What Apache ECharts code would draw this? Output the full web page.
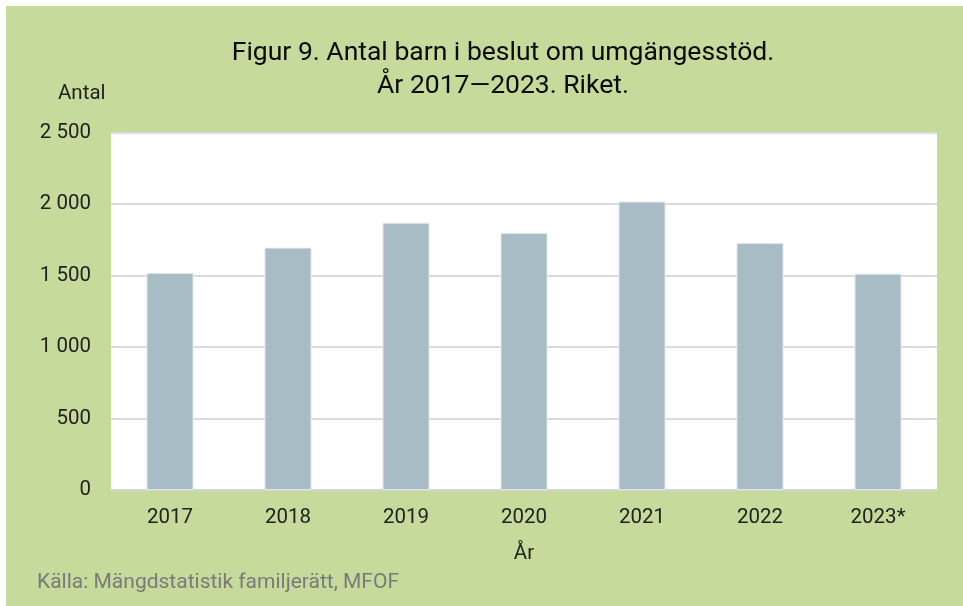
<!DOCTYPE html>
<html>
<head>
<meta charset="utf-8">
<script src="https://cdn.jsdelivr.net/npm/echarts@6/dist/echarts.min.js"></script>
<style>
  html, body { margin: 0; padding: 0; background: #fff; }
  #chart { position: absolute; left: 6px; top: 6px; width: 957px; height: 600px; }
</style>
</head>
<body>
<div id="chart"></div>
<script>
// År och antal barn
const years = ["2017", "2018", "2019", "2020", "2021", "2022", "2023*"];
const antal = [1518, 1695, 1869, 1797, 2017, 1727, 1513];
const yTicks = [0, 500, 1000, 1500, 2000, 2500];

const fmt = v => String(v).replace(/\B(?=(\d{3})+(?!\d))/g, " ");

const chart = echarts.init(document.getElementById("chart"));
chart.setOption({
  backgroundColor: "#c5da9b",
  textStyle: { fontFamily: "Roboto" },
  title: [
    {
      text: "Figur 9. Antal barn i beslut om umgängesstöd.\nÅr 2017\u20142023. Riket.",
      left: 492,
      top: 26,
      textAlign: "center",
      textStyle: { fontSize: 26.5, fontWeight: "normal", color: "#0a0a0a", lineHeight: 33, fontFamily: "Roboto" },
    },
    {
      text: "Källa: Mängdstatistik familjerätt, MFOF",
      left: 26,
      top: 561,
      textStyle: { fontSize: 21, fontWeight: "normal", color: "#7a7a7a", fontFamily: "Roboto" },
    },
  ],
  graphic: [
    {
      type: "text",
      left: 52,
      top: 77,
      style: { text: "Antal", fontSize: 20.5, fill: "#222", fontFamily: "Roboto" },
    },
  ],
  grid: {
    left: 105,
    right: 26,
    top: 126.5,
    bottom: 116,
    show: true,
    backgroundColor: "#fff",
    borderWidth: 0,
  },
  xAxis: {
    type: "category",
    data: years,
    name: "År",
    nameLocation: "middle",
    nameGap: 53,
    nameTextStyle: { fontSize: 20.5, color: "#222" },
    axisTick: { show: false },
    axisLine: { lineStyle: { color: "#d4d4d4", width: 2 } },
    axisLabel: { fontSize: 20.5, color: "#222", margin: 17 },
  },
  yAxis: {
    type: "value",
    min: 0,
    max: 2500,
    interval: 500,
    axisLine: { show: false },
    axisTick: { show: false },
    axisLabel: { fontSize: 20.5, color: "#222", margin: 20, formatter: v => (yTicks.includes(v) ? fmt(v) : "") },
    splitLine: { lineStyle: { color: "#dadada", width: 2 } },
  },
  series: [
    {
      type: "bar",
      data: antal,
      barWidth: 47,
      itemStyle: { color: "#a8bcc6", borderColor: "#dfe7ec", borderWidth: 1 },
    },
  ],
});
</script>
</body>
</html>
